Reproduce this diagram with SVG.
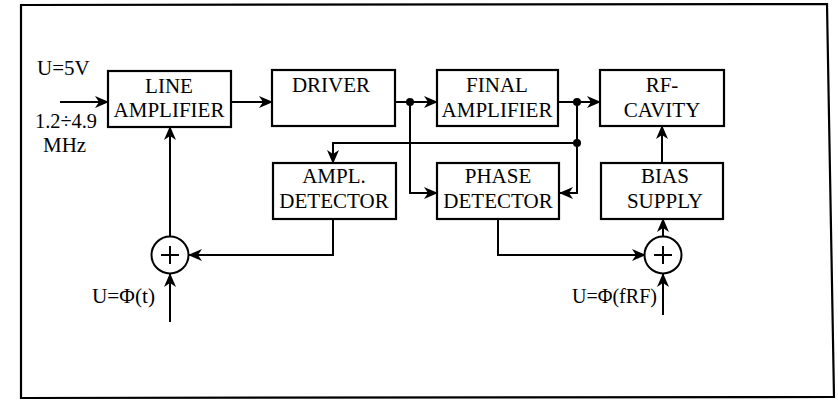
<svg xmlns="http://www.w3.org/2000/svg" width="838" height="400" viewBox="0 0 838 400">
<defs>
<marker id="arr" viewBox="0 0 14 12" refX="13" refY="6" markerWidth="14" markerHeight="12" markerUnits="userSpaceOnUse" orient="auto">
<path d="M0,0 L14,6 L0,12 L4,6 Z" fill="#000"/>
</marker>
<style>
.box{fill:#fff;stroke:#000;stroke-width:2.2}
.t{font-family:"Liberation Serif","Times New Roman",serif;font-size:21px;fill:#000;text-anchor:middle}
.l{font-family:"Liberation Serif","Times New Roman",serif;font-size:21px;fill:#000}
.w{fill:none;stroke:#000;stroke-width:2}
.a{fill:none;stroke:#000;stroke-width:2;marker-end:url(#arr)}
.dot{fill:#000}
.sum{fill:#fff;stroke:#000;stroke-width:2}
</style>
</defs>
<rect width="838" height="400" fill="#fff"/>
<path d="M21,5 L827,4 L834,397 L21,398 Z" fill="none" stroke="#000" stroke-width="2.2"/>

<g id="connectors">
<line class="a" x1="60" y1="102" x2="108" y2="102"/>
<line class="a" x1="231" y1="102" x2="272" y2="102"/>
<line class="a" x1="395" y1="102" x2="437" y2="102"/>
<line class="a" x1="558" y1="102" x2="600" y2="102"/>
<polyline class="a" points="410,102 410,193 437,193"/>
<polyline class="a" points="577,102 577,193 560,193"/>
<polyline class="a" points="577,143 333,143 333,163"/>
<polyline class="a" points="333,219 333,255 189,255"/>
<line class="a" x1="170" y1="236" x2="170" y2="127"/>
<line class="a" x1="170" y1="322" x2="170" y2="274"/>
<polyline class="a" points="498,219 498,255 645,255"/>
<line class="a" x1="663" y1="237" x2="663" y2="219"/>
<line class="a" x1="662" y1="163" x2="662" y2="126"/>
<line class="a" x1="663" y1="315" x2="663" y2="274"/>
<circle class="dot" cx="410" cy="102" r="4"/>
<circle class="dot" cx="577" cy="102" r="4"/>
<circle class="dot" cx="577" cy="143" r="4"/>
</g>

<g id="line_amplifier">
<rect class="box" x="108" y="71" width="123" height="56"/>
<text class="t" x="169" y="93">LINE</text>
<text class="t" x="169" y="117">AMPLIFIER</text>
</g>
<g id="driver">
<rect class="box" x="272" y="70" width="123" height="56"/>
<text class="t" x="331" y="92">DRIVER</text>
</g>
<g id="final_amplifier">
<rect class="box" x="437" y="70" width="121" height="56"/>
<text class="t" x="497" y="92">FINAL</text>
<text class="t" x="497" y="117">AMPLIFIER</text>
</g>
<g id="rf_cavity">
<rect class="box" x="600" y="70" width="124" height="56"/>
<text class="t" x="662" y="92">RF-</text>
<text class="t" x="662" y="117">CAVITY</text>
</g>
<g id="ampl_detector">
<rect class="box" x="273" y="163" width="123" height="56"/>
<text class="t" x="334" y="183">AMPL.</text>
<text class="t" x="334" y="208">DETECTOR</text>
</g>
<g id="phase_detector">
<rect class="box" x="437" y="163" width="122" height="56"/>
<text class="t" x="498" y="183">PHASE</text>
<text class="t" x="498" y="208">DETECTOR</text>
</g>
<g id="bias_supply">
<rect class="box" x="601" y="163" width="122" height="56"/>
<text class="t" x="665" y="183">BIAS</text>
<text class="t" x="665" y="208">SUPPLY</text>
</g>
<g id="sum_left">
<circle class="sum" cx="170" cy="255" r="18.5"/>
<path class="w" d="M161,255 H179 M170,246 V264"/>
</g>
<g id="sum_right">
<circle class="sum" cx="663" cy="255" r="18.5"/>
<path class="w" d="M654,255 H672 M663,246 V264"/>
</g>
<g id="labels">
<text class="l" x="37" y="75">U=5V</text>
<text class="l" x="35" y="128" textLength="62" lengthAdjust="spacingAndGlyphs">1.2÷4.9</text>
<text class="l" x="43" y="152">MHz</text>
<text class="l" x="92" y="303" font-size="19" textLength="63" lengthAdjust="spacingAndGlyphs">U=Φ(t)</text>
<text class="l" x="572" y="303" font-size="19" textLength="85" lengthAdjust="spacingAndGlyphs">U=Φ(fRF)</text>
</g>
</svg>
